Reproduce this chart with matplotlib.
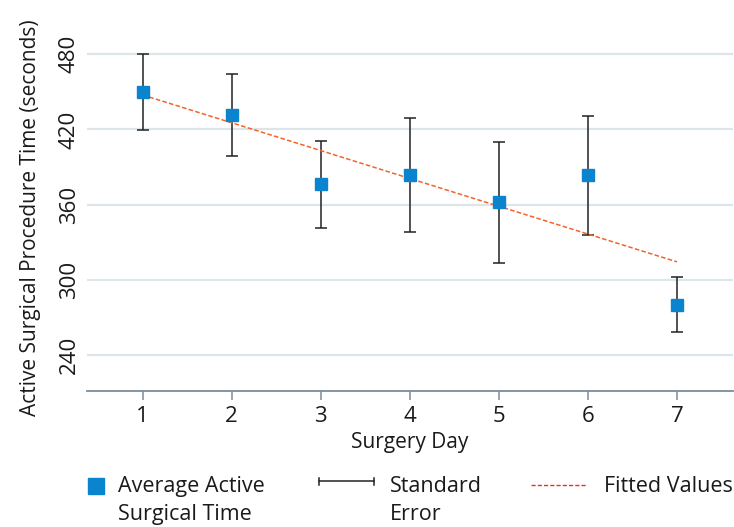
import numpy as np
import matplotlib.pyplot as plt
from matplotlib.lines import Line2D

# values
days = [1, 2, 3, 4, 5, 6, 7]
avg_time = [450.0, 431.5, 376.0, 383.3, 361.7, 383.3, 279.8]
std_err = [30.5, 33.0, 35.0, 45.5, 48.4, 47.3, 22.0]
fitted = [447.5, 425.3, 403.1, 380.8, 358.6, 336.4, 314.2]
yticks = [240, 300, 360, 420, 480]
legend_labels = [['Average Active', 'Surgical Time'], ['Standard', 'Error'], ['Fitted Values']]

plt.rcParams['font.family'] = ['Open Sans', 'DejaVu Sans']

BLUE = '#0a84cf'
ORANGE = '#f4632a'
AXIS = '#7d8c99'
GRID = '#dde4ea'
INK = '#1a1a1a'

W, H = 734, 527
fig = plt.figure(figsize=(W / 100, H / 100), dpi=100)
ax = fig.add_axes([86.7 / W, (H - 391) / H, (733 - 86.7) / W, 391 / H])

ax.errorbar(days, avg_time, yerr=std_err, fmt='none', ecolor='#222222',
            elinewidth=1.1, capsize=4, capthick=1.1, zorder=3)
ax.plot(days, fitted, color=ORANGE, lw=1.1, dashes=[3, 1.5], zorder=4)
ax.plot(days, avg_time, 's', color=BLUE, markersize=8.6, zorder=5)

ax.set_xlim(0.371, 7.63)
ax.set_ylim(211, 523.4)
ax.set_xticks(days)
ax.set_yticks(yticks)
ax.yaxis.grid(True, color=GRID, lw=1.6)
ax.set_axisbelow(True)
for s in ['left', 'right', 'top']:
    ax.spines[s].set_visible(False)
ax.spines['bottom'].set_color(AXIS)
ax.spines['bottom'].set_linewidth(1.3)
ax.tick_params(axis='x', colors=AXIS, length=6.5, width=1.1, labelsize=16,
               labelcolor=INK, pad=4)
ax.tick_params(axis='y', length=0, labelsize=16, labelcolor=INK, pad=5)
for lab in ax.get_yticklabels():
    lab.set_rotation(90)
    lab.set_va('center')

ax.set_xlabel('Surgery Day', fontsize=15, color=INK)
ax.xaxis.label.set_va('baseline')
ax.xaxis.set_label_coords(0.5, (391 - 448) / 391)
ax.set_ylabel('Active Surgical Procedure Time (seconds)', fontsize=15, color=INK)
ax.yaxis.label.set_va('center')
ax.yaxis.set_label_coords((31 - 86.7) / 646.3, (391 - 218) / 391)


# legend drawn by hand in pixel positions (from top-left of the image)
def fx(px):
    return px / W


def fy(py):
    return (H - py) / H


fig.add_artist(Line2D([fx(95.7)], [fy(485.7)], marker='s', color=BLUE,
                      markersize=12, ls='none', transform=fig.transFigure))
y_err = fy(481)
fig.add_artist(Line2D([fx(319), fx(374)], [y_err, y_err], color='#222222', lw=1.1,
                      transform=fig.transFigure))
for xe in (319, 374):
    fig.add_artist(Line2D([fx(xe), fx(xe)], [fy(477.5), fy(484.5)], color='#222222',
                          lw=1.1, transform=fig.transFigure))
fig.add_artist(Line2D([fx(531), fx(586)], [fy(485), fy(485)], color='#f02a2a', lw=1.0,
                      dashes=[3, 1.5], transform=fig.transFigure))

text_x = [118, 390, 604]
for tx, lines in zip(text_x, legend_labels):
    for i, line in enumerate(lines):
        fig.text(fx(tx), fy(492 + 28 * i), line, fontsize=15.5, color=INK,
                 ha='left', va='baseline')

fig.savefig('out.png', dpi=100)
